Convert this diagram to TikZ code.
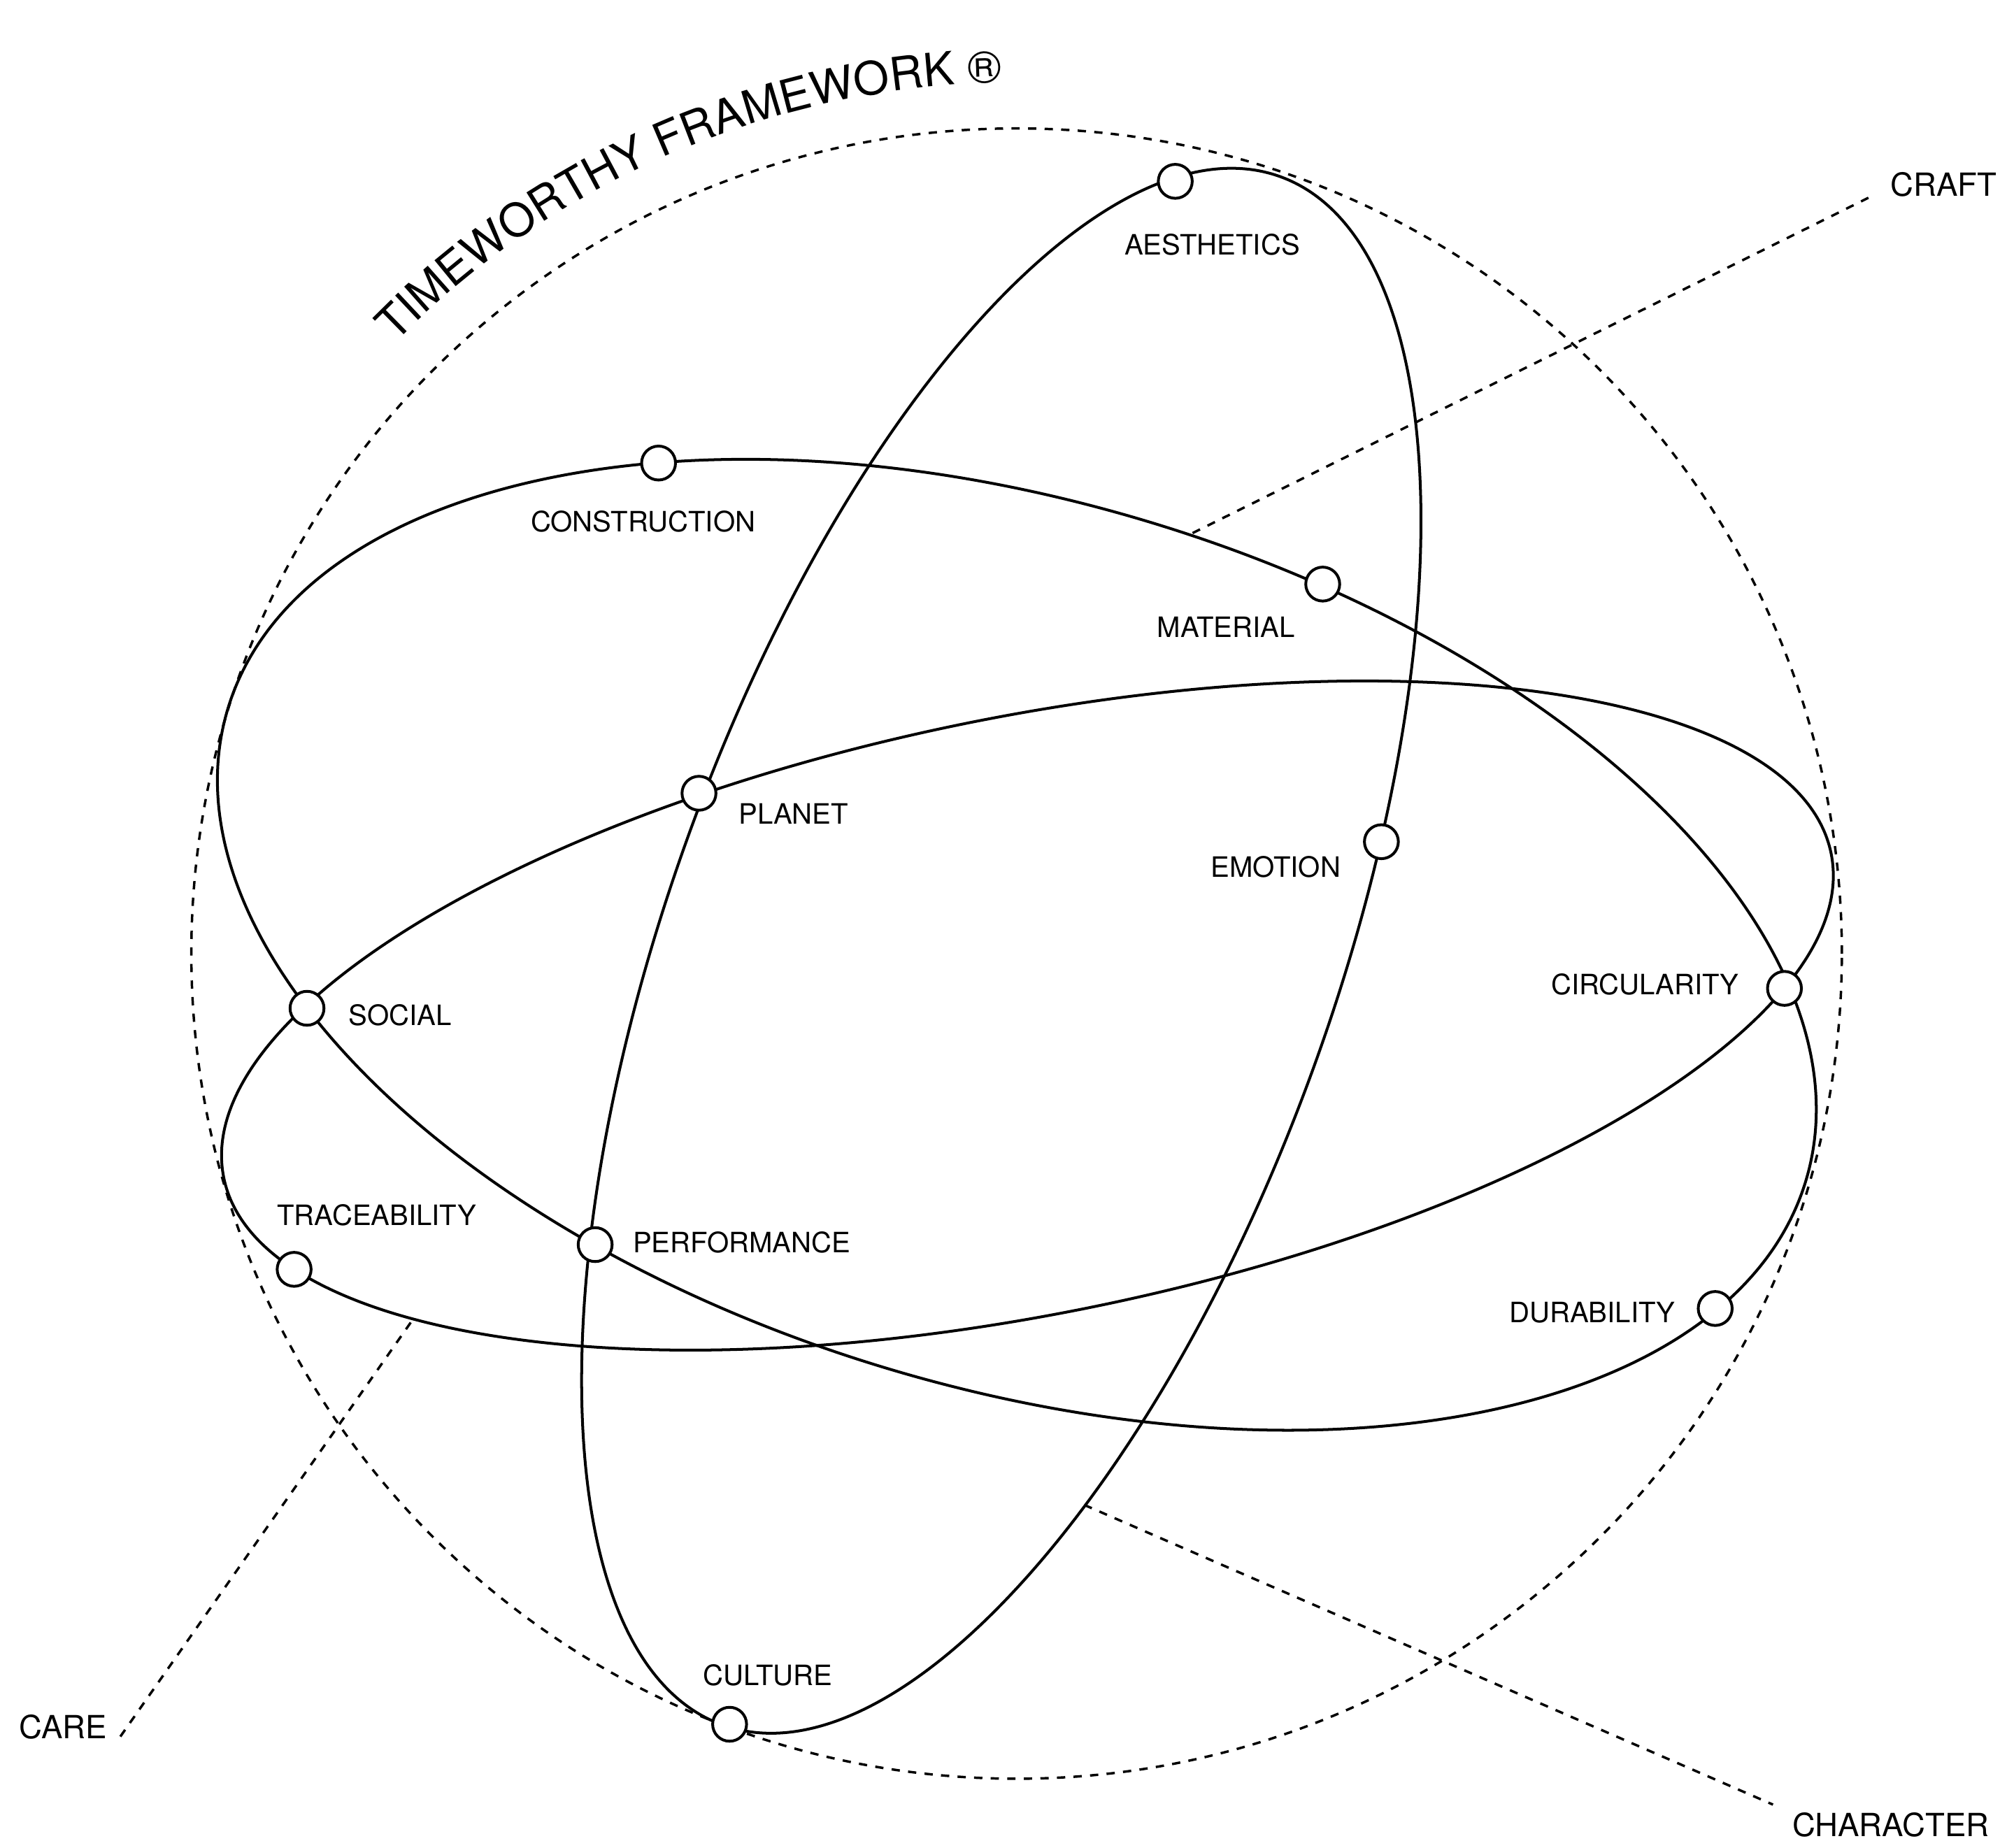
\documentclass[tikz,border=0pt]{standalone}
\usepackage{fontspec}
\setmainfont{TeX Gyre Heros}
\usetikzlibrary{decorations.text}

\tikzset{
  orbit/.style={line width=2.2pt},
  guide/.style={line width=1.9pt, dash pattern=on 6.5pt off 6.5pt},
  dot/.style={circle, draw, line width=2.2pt, fill=white, inner sep=0pt, minimum size=26.6pt},
  lbl/.style={anchor=base west, inner sep=0pt, font=\fontsize{22}{26}\selectfont},
  axislbl/.style={anchor=base west, inner sep=0pt, font=\fontsize{25}{30}\selectfont}
}

\begin{document}
\begin{tikzpicture}[x=1pt,y=1pt]
\useasboundingbox (0,0) rectangle (1568,1449);

%Shape: Circle
\draw[guide] (797,701.3) circle [radius=647];

% Title along the circle
\path[decorate, decoration={text along path, text={|\fontsize{36}{40}\selectfont|TIMEWORTHY FRAMEWORK ®}}] (309.9,1179.9) arc [start angle=135.5, end angle=88, radius=683];

%Shape: Ellipse (character)
\draw[orbit] (785,703.5) ellipse [x radius=645.2, y radius=261.4, rotate=70.2];
%Shape: Ellipse (craft)
\draw[orbit] (797.2,708.2) ellipse [x radius=645.7, y radius=347.4, rotate=-16.6];
%Shape: Ellipse (care)
\draw[orbit] (805.5,652.7) ellipse [x radius=642.8, y radius=234.1, rotate=11.4];

% Axis lines
\coordinate (craftfoot) at (935,1031);
\coordinate (craftend) at (1465,1294);
\coordinate (carefoot) at (322,412);
\coordinate (careend) at (92,84);
\coordinate (characterfoot) at (850,269);
\coordinate (characterend) at (1390,34);
\draw[guide] (craftfoot) -- (craftend);
\draw[guide] (carefoot) -- (careend);
\draw[guide] (characterfoot) -- (characterend);

% Points
\node[dot] (aesthetics) at (921.4,1306.8) {};
\node[dot] (construction) at (516.3,1085.9) {};
\node[dot] (material) at (1037,991) {};
\node[dot] (planet) at (548,827) {};
\node[dot] (emotion) at (1083,789) {};
\node[dot] (circularity) at (1399,674) {};
\node[dot] (social) at (240.7,658.4) {};
\node[dot] (traceability) at (230.6,453.7) {};
\node[dot] (performance) at (466.6,473.1) {};
\node[dot] (durability) at (1344.7,423) {};
\node[dot] (culture) at (572,97) {};

% Text Node
\node[lbl] (aestheticslbl) at (881.4,1249.4) {AESTHETICS};
\node[lbl] (constructionlbl) at (416,1032) {CONSTRUCTION};
\node[lbl] (materiallbl) at (907,949) {MATERIAL};
\node[lbl] (planetlbl) at (579,803) {PLANET};
\node[lbl] (emotionlbl) at (949,761) {EMOTION};
\node[lbl] (circularitylbl) at (1216,669) {CIRCULARITY};
\node[lbl] (sociallbl) at (273,645) {SOCIAL};
\node[lbl] (traceabilitylbl) at (217,488) {TRACEABILITY};
\node[lbl] (performancelbl) at (496,467) {PERFORMANCE};
\node[lbl] (durabilitylbl) at (1183,412) {DURABILITY};
\node[lbl] (culturelbl) at (551,127.7) {CULTURE};
% Text Node
\node[axislbl] (craft) at (1482,1295) {CRAFT};
\node[axislbl] (care) at (15,86) {CARE};
\node[axislbl] (character) at (1405,9) {CHARACTER};

\end{tikzpicture}
\end{document}
